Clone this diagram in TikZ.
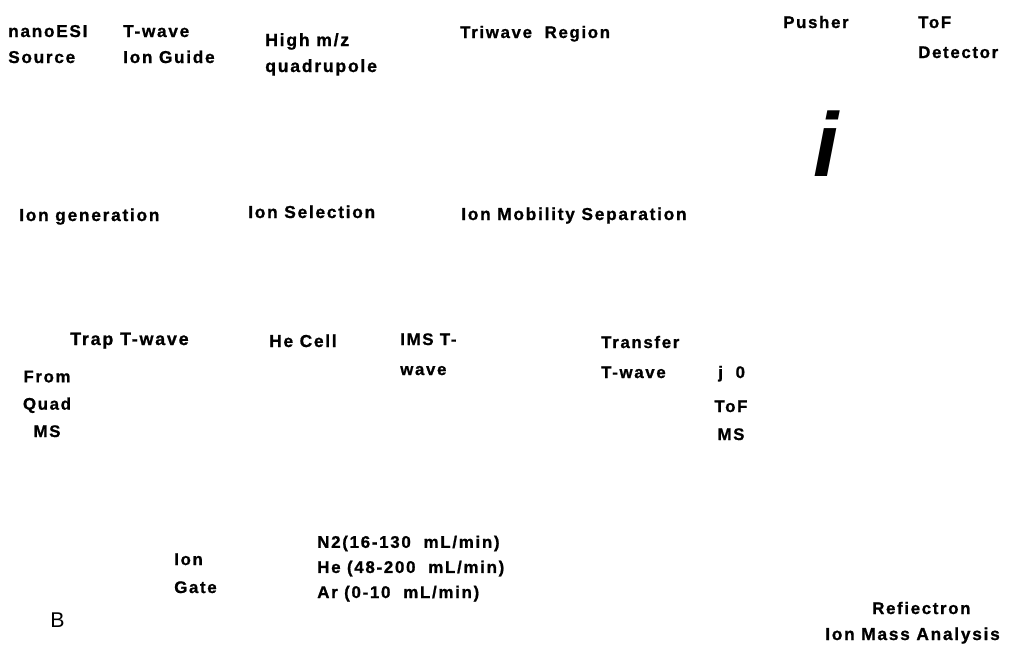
\documentclass[tikz,border=0pt]{standalone}
\usepackage{fontspec}
\setmainfont{Liberation Sans}
\newfontfamily\labfont[LetterSpace=10, FakeBold=1]{Liberation Sans Bold}
\usetikzlibrary{positioning}
\tikzset{
  lab/.style={anchor=base west, inner sep=0pt, align=left,
    font=\labfont\fontsize{#1}{19.5}\selectfont},
  lab/.default=12.6,
}

\begin{document}
\begin{tikzpicture}[x=0.75pt, y=-0.75pt]
  \useasboundingbox (0,0) rectangle (1009,651);
  % instrument parts, top row (base = last line)
  \node[lab=12.9] (nanoesi) at (8,63) {nanoESI\\Source};
  \node[lab=12.9] (guide) at (123,63) {T-wave\\Ion Guide};
  \node[lab=13.2] (quad) at (265,72) {High m/z\\quadrupole};
  \node[lab] (triwave) at (460,38) {Triwave\ \ Region};
  \node[lab] (pusher) at (783,28) {Pusher};
  \node[lab] (detector) at (918,58) {ToF\\[3pt]Detector};
  \node[anchor=base, inner sep=0pt,
    font=\fontsize{68}{68}\selectfont\bfseries\itshape] (ion) at (826,176) {i};
  % stages
  \node[lab=13] (gen) at (19,221) {Ion\ generation};
  \node[lab=13] (select) at (248,218) {Ion Selection};
  \node[lab=13] (mobility) at (461,220) {Ion Mobility Separation};
  % triwave parts
  \node[lab=13.4] (trap) at (70,345) {Trap T-wave};
  \node[lab=13] (hecell) at (269,347) {He Cell};
  \node[lab] (ims) at (400,375) {IMS T-\\[3pt]wave};
  \node[lab] (transfer) at (601,378) {Transfer\\[3pt]T-wave};
  \node[lab] (jzero) at (718,378) {j\ \ 0};
  \node[lab, align=center, anchor=base] (tofms) at (731,440) {ToF\\[1.5pt]MS};
  \node[lab, align=center, anchor=base] (fromquad) at (47,437) {From\\[1pt]Quad\\[1pt]MS};
  \node[lab] (gate) at (174,593) {Ion\\[1.5pt]Gate};
  \node[lab, font=\labfont\fontsize{12.7}{18.8}\selectfont] (gas) at (317,598)
    {N2(16-130\ \ mL/min)\\He\ (48-200\ \ mL/min)\\Ar\ (0-10\ \ mL/min)};
  \node[anchor=base west, inner sep=0pt, font=\fontsize{16}{16}\selectfont] (panel) at (50,627) {B};
  \node[lab] (reflectron) at (872,614) {Refiectron};
  \node[lab=13] (mass) at (825,640) {Ion Mass Analysis};
\end{tikzpicture}
\end{document}
